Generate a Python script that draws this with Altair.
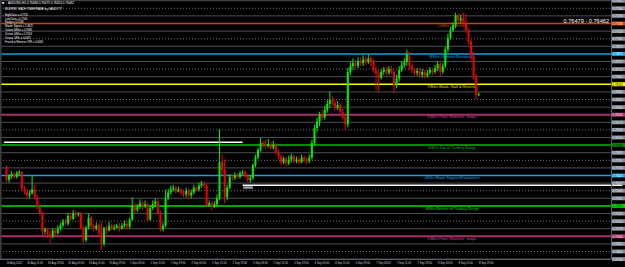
import altair as alt
import pandas as pd

# ---------------- data ----------------
first_open = 0.7571
closes = [0.7558,0.7562,0.7564,0.7561,0.7565,0.7566,0.7549,0.7546,0.7542,0.7544,
          0.7548,0.7540,0.7530,0.7524,0.7505,0.7507,0.7502,0.7500,0.7506,0.7503,
          0.7508,0.7511,0.7515,0.7513,0.7521,0.7518,0.7524,0.7522,0.7523,0.7509,
          0.7496,0.7509,0.7519,0.7511,0.7508,0.7511,0.7503,0.7492,0.7508,0.7506,
          0.7511,0.7508,0.7509,0.7511,0.7508,0.7511,0.7513,0.7510,0.7517,0.7532,
          0.7527,0.7530,0.7534,0.7531,0.7533,0.7517,0.7529,0.7533,0.7536,0.7524,
          0.7507,0.7511,0.7539,0.7545,0.7548,0.7550,0.7546,0.7548,0.7545,0.7543,
          0.7547,0.7542,0.7545,0.7550,0.7548,0.7552,0.7554,0.7552,0.7532,0.7534,
          0.7530,0.7533,0.7539,0.7576,0.7568,0.7540,0.7550,0.7561,0.7560,0.7563,
          0.7561,0.7565,0.7566,0.7562,0.7558,0.7560,0.7573,0.7581,0.7589,0.7596,
          0.7594,0.7593,0.7595,0.7591,0.7594,0.7587,0.7582,0.7576,0.7580,0.7575,
          0.7579,0.7582,0.7577,0.7579,0.7576,0.7581,0.7579,0.7577,0.7581,0.7596,
          0.7611,0.7618,0.7625,0.7622,0.7630,0.7636,0.7640,0.7637,0.7632,0.7635,
          0.7628,0.7622,0.7615,0.7669,0.7675,0.7678,0.7675,0.7680,0.7678,0.7682,
          0.7679,0.7683,0.7679,0.7671,0.7667,0.7663,0.7669,0.7671,0.7668,0.7672,
          0.7669,0.7655,0.7662,0.7671,0.7676,0.7679,0.7687,0.7675,0.7671,0.7668,
          0.7670,0.7666,0.7669,0.7665,0.7668,0.7671,0.7669,0.7673,0.7677,0.7669,
          0.7675,0.7692,0.7704,0.7712,0.7717,0.7727,0.7722,0.7724,0.7720,0.7712,
          0.7700,0.7686,0.7665,0.7645,0.7646]
highs = [0.7573,0.7564,0.7567,0.7566,0.7567,0.7568,0.7567,0.7552,0.7549,0.7547,
         0.7562,0.7553,0.7543,0.7532,0.7525,0.7509,0.7508,0.7506,0.7508,0.7508,
         0.7511,0.7514,0.7518,0.7518,0.7524,0.7524,0.7527,0.7526,0.7525,0.7525,
         0.7511,0.7511,0.7523,0.7521,0.7513,0.7514,0.7513,0.7515,0.7510,0.7511,
         0.7515,0.7513,0.7512,0.7513,0.7514,0.7514,0.7516,0.7515,0.7519,0.7540,
         0.7535,0.7533,0.7538,0.7536,0.7537,0.7535,0.7532,0.7537,0.7539,0.7538,
         0.7526,0.7514,0.7548,0.7549,0.7552,0.7553,0.7552,0.7551,0.7550,0.7548,
         0.7550,0.7549,0.7548,0.7553,0.7552,0.7555,0.7557,0.7556,0.7554,0.7537,
         0.7536,0.7536,0.7543,0.7610,0.7584,0.7579,0.7553,0.7564,0.7564,0.7566,
         0.7565,0.7567,0.7568,0.7568,0.7564,0.7562,0.7575,0.7584,0.7591,0.7601,
         0.7598,0.7599,0.7600,0.7597,0.7598,0.7596,0.7589,0.7584,0.7582,0.7582,
         0.7583,0.7585,0.7584,0.7582,0.7581,0.7584,0.7583,0.7581,0.7584,0.7599,
         0.7615,0.7622,0.7628,0.7630,0.7634,0.7640,0.7649,0.7644,0.7640,0.7639,
         0.7637,0.7631,0.7625,0.7673,0.7679,0.7683,0.7681,0.7684,0.7684,0.7686,
         0.7685,0.7687,0.7686,0.7682,0.7675,0.7671,0.7672,0.7674,0.7674,0.7675,
         0.7675,0.7671,0.7666,0.7675,0.7680,0.7683,0.7692,0.7690,0.7678,0.7673,
         0.7673,0.7673,0.7672,0.7671,0.7671,0.7674,0.7673,0.7676,0.7680,0.7679,
         0.7678,0.7695,0.7708,0.7715,0.7720,0.7730,0.7729,0.7728,0.7730,0.7729,
         0.7714,0.7702,0.7690,0.7667,0.7648]
lows = [0.7556,0.7555,0.7559,0.7559,0.7559,0.7563,0.7547,0.7543,0.7539,0.7539,
        0.7543,0.7538,0.7528,0.7522,0.7501,0.7502,0.7498,0.7493,0.7498,0.7500,
        0.7502,0.7506,0.7509,0.7511,0.7511,0.7516,0.7517,0.7519,0.7520,0.7507,
        0.7493,0.7494,0.7507,0.7509,0.7505,0.7506,0.7500,0.7486,0.7490,0.7502,
        0.7505,0.7506,0.7506,0.7508,0.7505,0.7507,0.7509,0.7507,0.7508,0.7516,
        0.7524,0.7525,0.7528,0.7527,0.7529,0.7515,0.7516,0.7527,0.7531,0.7522,
        0.7505,0.7505,0.7509,0.7537,0.7543,0.7546,0.7544,0.7545,0.7542,0.7540,
        0.7540,0.7538,0.7539,0.7543,0.7546,0.7546,0.7550,0.7549,0.7530,0.7530,
        0.7527,0.7529,0.7531,0.7537,0.7563,0.7534,0.7537,0.7548,0.7557,0.7558,
        0.7559,0.7559,0.7563,0.7560,0.7556,0.7555,0.7558,0.7571,0.7579,0.7587,
        0.7591,0.7590,0.7591,0.7589,0.7589,0.7584,0.7579,0.7573,0.7574,0.7572,
        0.7573,0.7576,0.7575,0.7575,0.7574,0.7575,0.7576,0.7574,0.7575,0.7579,
        0.7594,0.7607,0.7613,0.7619,0.7620,0.7627,0.7632,0.7634,0.7629,0.7630,
        0.7626,0.7620,0.7609,0.7612,0.7666,0.7671,0.7672,0.7673,0.7675,0.7675,
        0.7676,0.7677,0.7675,0.7668,0.7650,0.7648,0.7661,0.7666,0.7665,0.7666,
        0.7667,0.7647,0.7652,0.7659,0.7669,0.7673,0.7675,0.7671,0.7668,0.7665,
        0.7665,0.7663,0.7663,0.7662,0.7663,0.7666,0.7666,0.7667,0.7670,0.7664,
        0.7667,0.7673,0.7689,0.7702,0.7710,0.7714,0.7718,0.7719,0.7717,0.7709,
        0.7697,0.7681,0.7661,0.7641,0.7644]
opens = [first_open] + closes[:-1]
bar_index = list(range(len(closes)))

x_tick_bars = [0, 8, 16, 24, 32, 40, 48, 56, 64, 72, 80, 88, 96, 104, 112,
               120, 128, 136, 144, 152, 160, 168, 176, 184]
x_tick_labels = ["30 Aug 2016", "30 Aug 11:00", "30 Aug 19:00", "31 Aug 03:00",
                 "31 Aug 11:00", "31 Aug 19:00", "1 Sep 03:00", "1 Sep 11:00",
                 "1 Sep 19:00", "2 Sep 03:00", "2 Sep 11:00", "2 Sep 19:00",
                 "5 Sep 03:00", "5 Sep 11:00", "5 Sep 19:00", "6 Sep 03:00",
                 "6 Sep 11:00", "6 Sep 19:00", "7 Sep 03:00", "7 Sep 11:00",
                 "7 Sep 19:00", "8 Sep 03:00", "8 Sep 11:00", "8 Sep 19:00"]

mm_prices = [0.750000, 0.753125, 0.756250, 0.759375, 0.762500, 0.765625, 0.768750, 0.771875]
mm_labels = ["2/8ths Pivot, Reverse - major", "3/8ths Bottom of Trading Range",
             "4/8ths Major Support/Resistance", "5/8ths Top of Trading Range",
             "6/8ths Pivot, Reverse - major", "7/8ths Weak, Stall & Reverse",
             "8/8ths Ultimate Resistance", "+1/8ths Overshoot"]

grid_prices = [0.74766, 0.74844, 0.74922, 0.75000, 0.75078, 0.75156, 0.75234,
               0.75313, 0.75391, 0.75469, 0.75547, 0.75625, 0.75703, 0.75781,
               0.75859, 0.75938, 0.76016, 0.76094, 0.76172, 0.76250, 0.76328,
               0.76406, 0.76484, 0.76563, 0.76641, 0.76719, 0.76797, 0.76875,
               0.76953, 0.77031, 0.77109, 0.77188, 0.77266, 0.77344, 0.77422]

white_start = [-1, 92]
white_end = [92, 240]
white_price = [0.75966, 0.75524]

header_text = "AUDUSD,H1  0.76466 0.76475 0.76454 0.76462"
title_text = "MURREY MATH TIMEFRAME by SANDY77"
info_lines = ["HighClose = 0.7732", "LowClose = 0.7564", "Range = 0.0168",
              "Master Square = 1.0625", "Octave 8/8ths = 0.7688",
              "Octave 4/8ths = 0.7563", "Octave 1/8th = 0.0031",
              "Fractal to Reverse OFF = 0.0043"]
quote_text = "0.76479 - 0.76462"

# ---------------- styles ----------------
TW, TH = 625, 267      # whole canvas
W, H = 611, 259        # plot region inside it
FONT = "Liberation Sans"
bull, bear = "#00ee00", "#ee0000"
mm_line_colors = ["#a8306a", "#00e000", "#1e9ad6", "#008c00", "#a8306a", "#ffff00", "#12a0e0", "#d2400c"]
mm_text_colors = ["#d050a0", "#22d022", "#22a0e0", "#22b022", "#d050a0", "#e8dc00", "#22a0e0", "#c84a14"]
mm_widths = [2, 1.5, 1.5, 2, 2, 1.5, 1.5, 1.5]
mm_box_text = ["#ffffff", "#000000", "#ffffff", "#000000", "#ffffff", "#000000", "#ffffff", "#ffffff"]

xscale = alt.Scale(domain=[-0.575, 233.6], range=[0, W], nice=False, zero=False)
yscale = alt.Scale(domain=[0.747666, 0.774291], range=[H, 0], nice=False, zero=False)

candles = pd.DataFrame({"bar": bar_index, "open": opens, "high": highs,
                        "low": lows, "close": closes})

mm_df = pd.DataFrame({"price": mm_prices, "label": mm_labels,
                      "lcolor": mm_line_colors, "tcolor": mm_text_colors,
                      "w": mm_widths})

rows = []
for k, p in enumerate(grid_prices):
    kk = k - 3
    if kk % 4 == 0 and 0 <= kk // 4 < len(mm_prices):
        j = kk // 4
        kind, box, txt = "mm", mm_line_colors[j], mm_box_text[j]
    elif kk % 4 == 2:
        kind, box, txt = "dot", "#7c8794", "#eeeeee"
    else:
        kind, box, txt = "solid", "#7c8794", "#eeeeee"
    rows.append({"price": p, "kind": kind, "box": box, "txt": txt,
                 "label": f"{p:.5f}"})
grid_df = pd.DataFrame(rows)

white_df = pd.DataFrame({"start": white_start, "end": white_end, "price": white_price,
                         "label": [f"{p:.5f}" for p in white_price]})
xlab_df = pd.DataFrame({"bar": x_tick_bars, "label": x_tick_labels})
one = pd.DataFrame({"a": [0]})

Y = lambda f: alt.Y(f, scale=yscale, axis=None)
X = lambda f: alt.X(f, scale=xscale, axis=None)

bg = alt.Chart(one).mark_rect(color="#000000").encode(
    x=alt.value(0), x2=alt.value(TW), y=alt.value(0), y2=alt.value(TH))

grid_solid = alt.Chart(grid_df).transform_filter("datum.kind == 'solid'").mark_rule(
    color="#4a5158", strokeWidth=1).encode(y=Y("price:Q"), x=alt.value(0), x2=alt.value(W))
grid_dot = alt.Chart(grid_df).transform_filter("datum.kind == 'dot'").mark_rule(
    color="#6e747a", strokeWidth=1, strokeDash=[1, 2]).encode(
    y=Y("price:Q"), x=alt.value(0), x2=alt.value(W))
mm_lines = alt.Chart(mm_df).mark_rule().encode(
    y=Y("price:Q"), x=alt.value(0), x2=alt.value(W),
    color=alt.Color("lcolor:N", scale=None),
    strokeWidth=alt.StrokeWidth("w:Q", scale=None))

white_lines = alt.Chart(white_df).mark_rule(color="#ffffff", strokeWidth=1.5).encode(
    x=X("start:Q"), x2="end:Q", y=Y("price:Q"))
white_box = alt.Chart(white_df.iloc[[1]]).mark_rect(
    color="#6c737b", width=10, height=3, xOffset=5.5, yOffset=2.3).encode(
    x=X("start:Q"), y=Y("price:Q"))
white_txt = alt.Chart(white_df.iloc[[1]]).mark_text(
    font=FONT, fontSize=2.5, align="left", baseline="middle", dx=0.8, dy=2.3,
    color="#e0e0e0").encode(x=X("start:Q"), y=Y("price:Q"), text="label:N")

mm_text = alt.Chart(mm_df).mark_text(
    font=FONT, fontSize=3.8, align="center", baseline="middle", dy=2.8).encode(
    x=alt.value(452), y=Y("price:Q"), text="label:N",
    color=alt.Color("tcolor:N", scale=None))

ccolor = alt.condition("datum.close >= datum.open", alt.value(bull), alt.value(bear))
wicks = alt.Chart(candles).mark_rule(strokeWidth=1).encode(
    x=X("bar:Q"), y=Y("low:Q"), y2="high:Q", color=ccolor)
bodies = alt.Chart(candles).mark_bar(size=2).encode(
    x=X("bar:Q"), y=Y("open:Q"), y2="close:Q", color=ccolor)

hdr_icon = alt.Chart(one).mark_text(text="■", fontSize=3.5, color="#ffffff",
                                    align="left", baseline="middle").encode(
    x=alt.value(2), y=alt.value(3))
hdr = alt.Chart(one).mark_text(text=header_text, font=FONT, fontSize=3.1, color="#ffffff",
                               align="left", baseline="middle").encode(
    x=alt.value(8), y=alt.value(3))
ttl = alt.Chart(one).mark_text(text=title_text, font=FONT, fontSize=2.9, color="#ffffff",
                               align="left", baseline="middle").encode(
    x=alt.value(5), y=alt.value(9))
info = alt.Chart(one).mark_text(text="\n".join(info_lines), lineBreak="\n", lineHeight=3.95,
                                font=FONT, fontSize=2.6, color="#ffffff",
                                align="left", baseline="top").encode(
    x=alt.value(5), y=alt.value(13.6))
quote = alt.Chart(one).mark_text(text=quote_text, font=FONT, fontSize=5.6, color="#ffffff",
                                 align="right", baseline="middle").encode(
    x=alt.value(609), y=alt.value(20.6))

frame_l = alt.Chart(one).mark_rule(color="#3c3f44", strokeWidth=1.5).encode(
    x=alt.value(0.75), y=alt.value(0), y2=alt.value(H))
frame_r = alt.Chart(one).mark_rule(color="#5a6066", strokeWidth=1).encode(
    x=alt.value(W + 0.5), y=alt.value(0), y2=alt.value(H))
frame_b = alt.Chart(one).mark_rule(color="#5a6066", strokeWidth=1).encode(
    x=alt.value(0), x2=alt.value(W), y=alt.value(H + 0.5))

boxes = alt.Chart(grid_df).mark_rule(strokeWidth=4).encode(
    x=alt.value(612), x2=alt.value(TW), y=Y("price:Q"),
    color=alt.Color("box:N", scale=None))
box_txt = alt.Chart(grid_df).mark_text(font=FONT, fontSize=2.8, align="left",
                                       baseline="middle").encode(
    x=alt.value(612.6), y=Y("price:Q"), text="label:N",
    color=alt.Color("txt:N", scale=None))

xlabels = alt.Chart(xlab_df).mark_text(font=FONT, fontSize=2.7, align="left",
                                       baseline="middle", color="#d0d0d0", dx=0.3).encode(
    x=X("bar:Q"), y=alt.value(263), text="label:N")

chart = alt.layer(
    bg, grid_solid, grid_dot, mm_lines, white_lines, white_box, white_txt, mm_text,
    wicks, bodies, hdr_icon, hdr, ttl, info, quote, frame_l, frame_r, frame_b,
    boxes, box_txt, xlabels
).properties(
    width=TW, height=TH, padding=0, background="#000000",
    autosize=alt.AutoSizeParams(type="none")
).configure_view(strokeWidth=0)

chart.save("out.html", embed_options={"renderer": "svg", "actions": False})
